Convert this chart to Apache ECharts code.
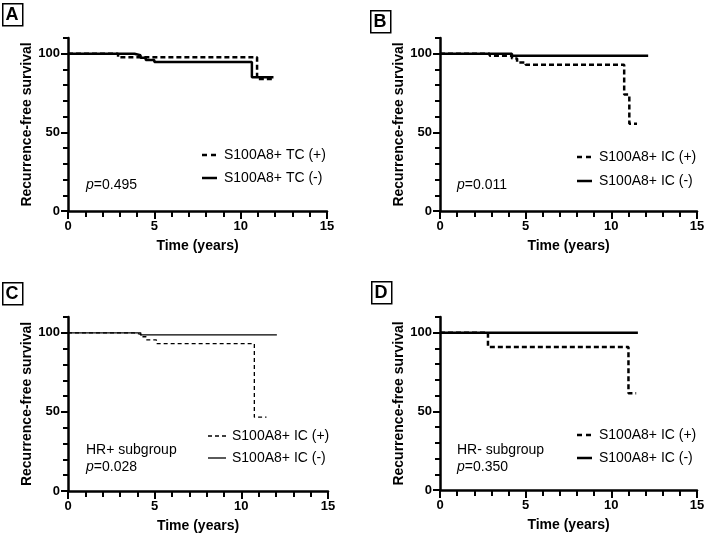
<!DOCTYPE html>
<html>
<head>
<meta charset="utf-8">
<script src="https://cdn.jsdelivr.net/npm/echarts@6/dist/echarts.min.js"></script>
<style>
  html, body { margin: 0; padding: 0; background: #fff; }
  #chart { width: 708px; height: 536px; }
</style>
</head>
<body>
<div id="chart"></div>
<script>
// Kaplan-Meier steps: times (years) and survival (%) at each step
const aPosTimes = [0, 2.9, 10.95, 11.9];
const aPosSurv  = [100, 97.7, 84, 84];
const aNegTimes = [0, 3.85, 4.2, 4.5, 5.0, 10.65, 11.9];
const aNegSurv  = [100, 99, 97.5, 96, 94.7, 85, 85];

const bPosTimes = [0, 2.9, 4.2, 4.5, 5.0, 10.75, 11.05, 11.5];
const bPosSurv  = [100, 98.7, 97, 94.5, 93, 74, 55.5, 55.5];
const bNegTimes = [0, 4.2, 12.15];
const bNegSurv  = [100, 98.7, 98.7];

const cPosTimes = [0, 3.8, 4.2, 4.5, 5.1, 10.75, 11.45];
const cPosSurv  = [100, 99, 97.5, 95.5, 93.2, 46.7, 46.7];
const cNegTimes = [0, 4.2, 12.05];
const cNegSurv  = [100, 98.7, 98.7];

const dPosTimes = [0, 2.8, 11.0, 11.45];
const dPosSurv  = [100, 91, 61.5, 61.5];
const dNegTimes = [0, 11.55];
const dNegSurv  = [100, 100];

const xTickValues = [0, 5, 10, 15];
const yTickValues = [0, 50, 100];
const xMax = 15;
const yMax = 110;

const panelLetters = ['A', 'B', 'C', 'D'];
const legendNames = [
  ['S100A8+ TC (+)', 'S100A8+ TC (-)'],
  ['S100A8+ IC (+)', 'S100A8+ IC (-)'],
  ['S100A8+ IC (+)', 'S100A8+ IC (-)'],
  ['S100A8+ IC (+)', 'S100A8+ IC (-)']
];
const subgroups = ['', '', 'HR+ subgroup', 'HR- subgroup'];
const pValues = ['0.495', '0.011', '0.028', '0.350'];

const FONT = '"Liberation Sans", Arial, sans-serif';

function pairs(ts, vs) {
  return ts.map(function (t, i) { return [t, vs[i]]; });
}

// layout of the four panels (pixels)
const panels = [
  { left: 68,  top: 38,  width: 259, height: 173, thick: true,  pos: pairs(aPosTimes, aPosSurv), neg: pairs(aNegTimes, aNegSurv) },
  { left: 440, top: 38,  width: 257, height: 173, thick: true,  pos: pairs(bPosTimes, bPosSurv), neg: pairs(bNegTimes, bNegSurv) },
  { left: 68,  top: 317, width: 260, height: 174, thick: false, pos: pairs(cPosTimes, cPosSurv), neg: pairs(cNegTimes, cNegSurv) },
  { left: 440, top: 317, width: 257, height: 173, thick: true,  pos: pairs(dPosTimes, dPosSurv), neg: pairs(dNegTimes, dNegSurv) }
];

const grid = [], xAxis = [], yAxis = [], series = [], graphic = [];
const black = { color: '#000', width: 2 };

panels.forEach(function (p, i) {
  grid.push({ left: p.left, top: p.top, width: p.width, height: p.height });

  // x: one axis for the line and yearly ticks, one for labelled major ticks
  xAxis.push({
    gridIndex: i, type: 'value', min: 0, max: xMax, interval: 1, position: 'bottom',
    axisLine: { show: true, lineStyle: { color: '#000', width: 2.5 } },
    axisTick: { show: true, length: 6, lineStyle: black },
    axisLabel: { show: false },
    splitLine: { show: false }
  });
  xAxis.push({
    gridIndex: i, type: 'value', min: 0, max: xMax, interval: 1, position: 'bottom',
    name: 'Time (years)', nameLocation: 'middle', nameGap: 28,
    nameTextStyle: { color: '#000', fontFamily: FONT, fontWeight: 'bold', fontSize: 14 },
    axisLine: { show: false },
    axisTick: { show: true, length: 8, customValues: xTickValues, lineStyle: black },
    axisLabel: { color: '#000', fontFamily: FONT, fontWeight: 'bold', fontSize: 13, margin: 9,
      customValues: xTickValues },
    splitLine: { show: false }
  });

  // y: minor ticks every 10 plus the axis line, then labelled major ticks
  yAxis.push({
    gridIndex: i, type: 'value', min: 0, max: yMax, interval: 10, position: 'left',
    axisLine: { show: true, lineStyle: { color: '#000', width: 2.5 } },
    axisTick: { show: true, length: 5, lineStyle: black },
    axisLabel: { show: false },
    splitLine: { show: false }
  });
  yAxis.push({
    gridIndex: i, type: 'value', min: 0, max: yMax, interval: 10, position: 'left',
    name: 'Recurrence-free survival', nameLocation: 'middle', nameGap: 28,
    nameTextStyle: { color: '#000', fontFamily: FONT, fontWeight: 'bold', fontSize: 14 },
    axisLine: { show: false },
    axisTick: { show: true, length: 7, customValues: yTickValues, lineStyle: black },
    axisLabel: { color: '#000', fontFamily: FONT, fontWeight: 'bold', fontSize: 13, margin: 8,
      customValues: yTickValues },
    splitLine: { show: false }
  });

  const w = p.thick ? 2.5 : 1.3;
  const dash = p.thick ? [5, 3] : [4, 3];
  series.push({
    name: legendNames[i][1], type: 'line', step: 'end', xAxisIndex: 2 * i, yAxisIndex: 2 * i,
    data: p.neg, showSymbol: false, symbol: 'none', animation: false,
    lineStyle: { color: '#000', width: w, cap: 'butt' }
  });
  series.push({
    name: legendNames[i][0], type: 'line', step: 'end', xAxisIndex: 2 * i, yAxisIndex: 2 * i,
    data: p.pos, showSymbol: false, symbol: 'none', animation: false,
    lineStyle: { color: '#000', width: w, type: dash, cap: 'butt' }
  });
});

// panel letters in boxes
const boxes = [[2, 3], [370, 10], [2, 282], [371, 281]];
boxes.forEach(function (b, i) {
  graphic.push({ type: 'rect', left: b[0], top: b[1],
    shape: { width: 20, height: 22 }, style: { fill: '#fff', stroke: '#000', lineWidth: 1.5 } });
  graphic.push({ type: 'text', x: b[0] + 10, y: b[1] + 12,
    style: { text: panelLetters[i], font: 'bold 18px ' + FONT, fill: '#000', align: 'center', verticalAlign: 'middle' } });
});

// legends drawn next to each plot
const legendPos = [[202, 155, 178], [577, 157, 181], [208, 436, 458], [577, 435, 458]];
legendPos.forEach(function (lp, i) {
  const thick = panels[i].thick;
  const w = thick ? 2.5 : 1.3;
  graphic.push({ type: 'line', shape: { x1: lp[0], y1: lp[1], x2: lp[0] + (thick ? 14 : 18), y2: lp[1] },
    style: { stroke: '#000', lineWidth: w, lineDash: thick ? [5, 4] : [4, 3] } });
  graphic.push({ type: 'line', shape: { x1: lp[0], y1: lp[2], x2: lp[0] + (thick ? 15 : 18), y2: lp[2] },
    style: { stroke: '#000', lineWidth: w } });
  const tx = lp[0] + (thick ? 22 : 24);
  graphic.push({ type: 'text', x: tx, y: lp[1],
    style: { text: legendNames[i][0], font: '14px ' + FONT, fill: '#000', verticalAlign: 'middle' } });
  graphic.push({ type: 'text', x: tx, y: lp[2],
    style: { text: legendNames[i][1], font: '14px ' + FONT, fill: '#000', verticalAlign: 'middle' } });
});

// p values and subgroup notes
const notePos = [[86, 185], [457, 185], [86, 467], [457, 467]];
notePos.forEach(function (np, i) {
  graphic.push({ type: 'text', x: np[0], y: np[1],
    style: { text: '{i|p}=' + pValues[i], font: '14px ' + FONT, fill: '#000', verticalAlign: 'middle',
      rich: { i: { fontStyle: 'italic', fontFamily: FONT, fontSize: 14 } } } });
  if (subgroups[i]) {
    graphic.push({ type: 'text', x: np[0], y: np[1] - 17,
      style: { text: subgroups[i], font: '14px ' + FONT, fill: '#000', verticalAlign: 'middle' } });
  }
});

const chart = echarts.init(document.getElementById('chart'));
chart.setOption({
  backgroundColor: '#fff',
  animation: false,
  grid: grid,
  xAxis: xAxis,
  yAxis: yAxis,
  series: series,
  graphic: graphic
});
</script>
</body>
</html>
